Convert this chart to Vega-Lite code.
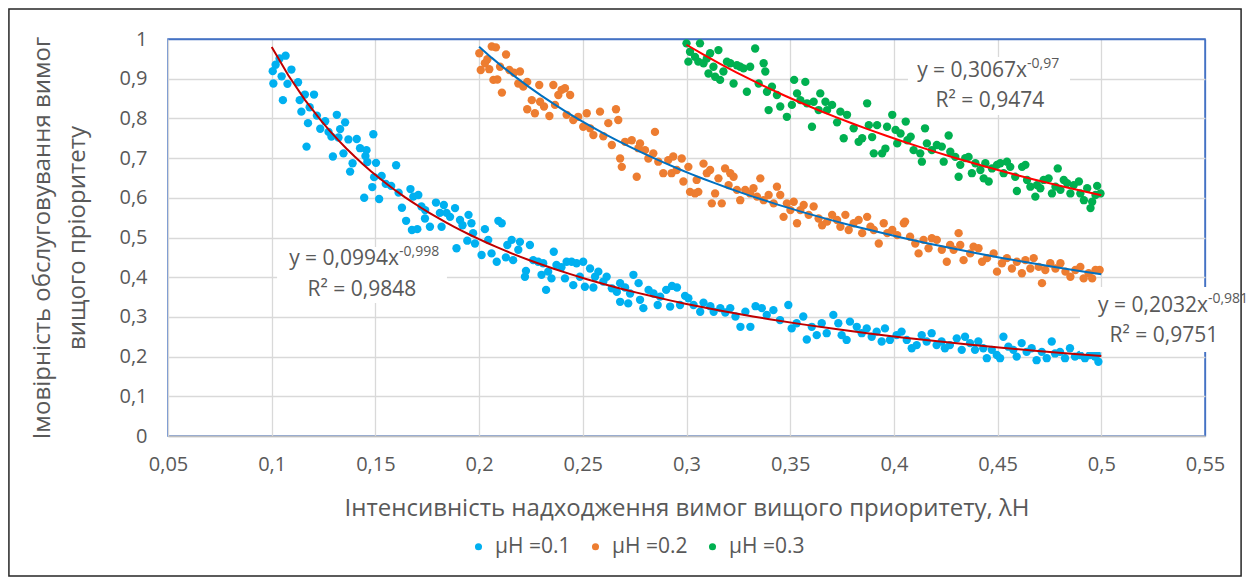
{
"$schema":"https://vega.github.io/schema/vega-lite/v6.json",
"width":1037,"height":397,
"autosize":{"type":"none"},
"padding":{"left":168,"top":39,"right":45,"bottom":148},
"background":"white",
"config":{"font":"Open Sans","view":{"stroke":"#4472C4","strokeWidth":1.5},
 "axis":{"labelFont":"Open Sans","titleFont":"Open Sans","labelColor":"#595959","titleColor":"#595959","titleFontWeight":"normal","labelFontSize":20,"titleFontSize":24,"ticks":false,"labelFlush":false,"labelOverlap":false,"labelBound":false},
 "legend":{"labelFont":"Open Sans"}},
"datasets":{
"a":[{"x":0.1005,"y":0.919},{"x":0.1008,"y":0.888},{"x":0.1019,"y":0.935},{"x":0.1038,"y":0.951},{"x":0.1067,"y":0.958},{"x":0.1048,"y":0.906},{"x":0.1054,"y":0.846},{"x":0.1076,"y":0.887},{"x":0.1095,"y":0.923},{"x":0.1127,"y":0.891},{"x":0.1135,"y":0.846},{"x":0.116,"y":0.86},{"x":0.1143,"y":0.817},{"x":0.1204,"y":0.86},{"x":0.1183,"y":0.828},{"x":0.1175,"y":0.788},{"x":0.1218,"y":0.807},{"x":0.1168,"y":0.729},{"x":0.1234,"y":0.774},{"x":0.1258,"y":0.793},{"x":0.1274,"y":0.766},{"x":0.1314,"y":0.809},{"x":0.1354,"y":0.79},{"x":0.133,"y":0.773},{"x":0.1322,"y":0.752},{"x":0.1295,"y":0.704},{"x":0.137,"y":0.747},{"x":0.141,"y":0.748},{"x":0.1346,"y":0.712},{"x":0.139,"y":0.687},{"x":0.1378,"y":0.666},{"x":0.149,"y":0.76},{"x":0.1452,"y":0.705},{"x":0.1461,"y":0.69},{"x":0.1446,"y":0.6},{"x":0.1494,"y":0.652},{"x":0.1485,"y":0.627},{"x":0.153,"y":0.655},{"x":0.155,"y":0.635},{"x":0.1518,"y":0.597},{"x":0.16,"y":0.682},{"x":0.1576,"y":0.63},{"x":0.1612,"y":0.613},{"x":0.1628,"y":0.575},{"x":0.1648,"y":0.542},{"x":0.1669,"y":0.622},{"x":0.1676,"y":0.519},
{"x":0.1288,"y":0.754},{"x":0.1426,"y":0.725},{"x":0.1457,"y":0.72},{"x":0.1503,"y":0.688},
{"x":0.1683,"y":0.603},{"x":0.1707,"y":0.607},{"x":0.1702,"y":0.521},{"x":0.1722,"y":0.578},{"x":0.1739,"y":0.548},{"x":0.1763,"y":0.527},{"x":0.1792,"y":0.588},{"x":0.1811,"y":0.562},{"x":0.183,"y":0.582},{"x":0.1843,"y":0.562},{"x":0.186,"y":0.552},{"x":0.1884,"y":0.574},{"x":0.1819,"y":0.527},{"x":0.1908,"y":0.544},{"x":0.192,"y":0.531},{"x":0.1949,"y":0.557},{"x":0.1963,"y":0.536},{"x":0.1971,"y":0.511},{"x":0.1943,"y":0.492},{"x":0.1891,"y":0.473},{"x":0.174,"y":0.569},{"x":0.198,"y":0.485},
{"x":0.2028,"y":0.521},{"x":0.2012,"y":0.456},{"x":0.2044,"y":0.494},{"x":0.206,"y":0.46},{"x":0.2085,"y":0.439},{"x":0.2093,"y":0.542},{"x":0.2109,"y":0.536},{"x":0.2136,"y":0.481},{"x":0.2157,"y":0.494},{"x":0.2129,"y":0.45},{"x":0.2164,"y":0.443},{"x":0.2197,"y":0.489},{"x":0.2189,"y":0.469},{"x":0.2226,"y":0.416},{"x":0.2221,"y":0.401},{"x":0.2245,"y":0.481},{"x":0.2261,"y":0.443},{"x":0.2285,"y":0.439},{"x":0.2301,"y":0.406},{"x":0.2309,"y":0.435},{"x":0.2333,"y":0.414},{"x":0.2349,"y":0.397},{"x":0.236,"y":0.464},{"x":0.2323,"y":0.368},{"x":0.2373,"y":0.431},{"x":0.2397,"y":0.425},{"x":0.2422,"y":0.439},{"x":0.2446,"y":0.439},{"x":0.247,"y":0.435},{"x":0.2502,"y":0.439},{"x":0.2414,"y":0.397},{"x":0.2454,"y":0.38},{"x":0.2486,"y":0.401},{"x":0.251,"y":0.376},{"x":0.2535,"y":0.422},{"x":0.2559,"y":0.401},{"x":0.2575,"y":0.414},{"x":0.2551,"y":0.374},{"x":0.2599,"y":0.389},{"x":0.2615,"y":0.401},{"x":0.264,"y":0.372},{"x":0.2664,"y":0.363},{"x":0.268,"y":0.385},{"x":0.2704,"y":0.374},{"x":0.268,"y":0.338},{"x":0.2728,"y":0.359},{"x":0.2744,"y":0.406},{"x":0.2769,"y":0.385},{"x":0.2719,"y":0.334},{"x":0.2776,"y":0.343},{"x":0.2792,"y":0.322},{"x":0.2817,"y":0.368},{"x":0.2841,"y":0.359},{"x":0.2861,"y":0.33},{"x":0.2873,"y":0.351},{"x":0.2902,"y":0.368},{"x":0.293,"y":0.378},{"x":0.2954,"y":0.374},{"x":0.2921,"y":0.326},{"x":0.2969,"y":0.33},{"x":0.2993,"y":0.353},{"x":0.3009,"y":0.347},{"x":0.3034,"y":0.33},{"x":0.3066,"y":0.313},{"x":0.3082,"y":0.336},{"x":0.3115,"y":0.327},{"x":0.3131,"y":0.313},{"x":0.3163,"y":0.322},{"x":0.3187,"y":0.311},{"x":0.3211,"y":0.322},{"x":0.3236,"y":0.301},{"x":0.326,"y":0.275},{"x":0.3284,"y":0.313},{"x":0.3308,"y":0.275},{"x":0.3333,"y":0.327},
{"x":0.3363,"y":0.322},{"x":0.3387,"y":0.305},{"x":0.3419,"y":0.317},{"x":0.3451,"y":0.292},{"x":0.3491,"y":0.33},{"x":0.3507,"y":0.271},{"x":0.3531,"y":0.284},{"x":0.3563,"y":0.301},{"x":0.358,"y":0.243},{"x":0.3604,"y":0.275},{"x":0.3628,"y":0.254},{"x":0.3652,"y":0.284},{"x":0.3676,"y":0.259},{"x":0.3708,"y":0.305},{"x":0.3732,"y":0.284},{"x":0.3748,"y":0.254},{"x":0.3772,"y":0.242},{"x":0.3788,"y":0.288},{"x":0.3821,"y":0.275},{"x":0.3845,"y":0.259},{"x":0.3869,"y":0.271},{"x":0.3893,"y":0.25},{"x":0.3917,"y":0.263},{"x":0.3941,"y":0.238},{"x":0.3957,"y":0.271},{"x":0.3981,"y":0.242},{"x":0.4013,"y":0.254},{"x":0.4037,"y":0.263},{"x":0.4062,"y":0.242},{"x":0.4086,"y":0.221},{"x":0.411,"y":0.229},{"x":0.4134,"y":0.254},{"x":0.4158,"y":0.238},{"x":0.4182,"y":0.259},{"x":0.4206,"y":0.229},{"x":0.423,"y":0.238},{"x":0.4246,"y":0.221},{"x":0.427,"y":0.229},{"x":0.4303,"y":0.246},{"x":0.4327,"y":0.217},{"x":0.4343,"y":0.25},{"x":0.4367,"y":0.234},{"x":0.4391,"y":0.217},{"x":0.4407,"y":0.238},{"x":0.4431,"y":0.221},{"x":0.4448,"y":0.196},{"x":0.4472,"y":0.217},{"x":0.4496,"y":0.204},{"x":0.4512,"y":0.196},{"x":0.4528,"y":0.25},{"x":0.4552,"y":0.225},{"x":0.4576,"y":0.217},{"x":0.4592,"y":0.2},{"x":0.4616,"y":0.234},{"x":0.464,"y":0.212},{"x":0.4664,"y":0.221},{"x":0.4688,"y":0.191},{"x":0.4713,"y":0.212},{"x":0.4737,"y":0.196},{"x":0.4761,"y":0.238},{"x":0.4777,"y":0.208},{"x":0.4801,"y":0.212},{"x":0.4825,"y":0.196},{"x":0.4849,"y":0.221},{"x":0.4873,"y":0.2},{"x":0.4897,"y":0.204},{"x":0.4921,"y":0.196},{"x":0.4945,"y":0.204},{"x":0.4969,"y":0.2},{"x":0.4986,"y":0.187},{"x":0.4978,"y":0.206}],
"b":[{"x":0.2001,"y":0.964},{"x":0.2008,"y":0.922},{"x":0.2028,"y":0.939},{"x":0.204,"y":0.949},{"x":0.2061,"y":0.981},{"x":0.2081,"y":0.979},{"x":0.2049,"y":0.924},{"x":0.2069,"y":0.897},{"x":0.2088,"y":0.898},{"x":0.211,"y":0.865},{"x":0.213,"y":0.961},{"x":0.2101,"y":0.93},{"x":0.2146,"y":0.922},{"x":0.2168,"y":0.915},{"x":0.2197,"y":0.918},{"x":0.2189,"y":0.888},{"x":0.2213,"y":0.88},{"x":0.2232,"y":0.892},{"x":0.2254,"y":0.846},{"x":0.2232,"y":0.823},{"x":0.2269,"y":0.813},{"x":0.229,"y":0.884},{"x":0.2294,"y":0.842},{"x":0.2313,"y":0.83},{"x":0.2339,"y":0.806},{"x":0.2358,"y":0.884},{"x":0.2366,"y":0.834},{"x":0.2382,"y":0.859},{"x":0.2398,"y":0.872},{"x":0.2414,"y":0.876},{"x":0.2439,"y":0.859},{"x":0.2422,"y":0.809},{"x":0.2454,"y":0.796},{"x":0.2478,"y":0.804},{"x":0.2502,"y":0.779},{"x":0.2519,"y":0.813},{"x":0.2535,"y":0.775},{"x":0.2551,"y":0.758},{"x":0.2583,"y":0.817},{"x":0.2599,"y":0.755},{"x":0.2623,"y":0.788},{"x":0.264,"y":0.733},{"x":0.266,"y":0.823},{"x":0.2671,"y":0.796},{"x":0.268,"y":0.699},{"x":0.2688,"y":0.678},{"x":0.2704,"y":0.741},{"x":0.2736,"y":0.745},{"x":0.276,"y":0.653},{"x":0.2768,"y":0.725},
{"x":0.2776,"y":0.737},{"x":0.28,"y":0.72},{"x":0.2816,"y":0.699},{"x":0.2848,"y":0.766},{"x":0.284,"y":0.712},{"x":0.2864,"y":0.691},{"x":0.2888,"y":0.662},{"x":0.2912,"y":0.695},{"x":0.2936,"y":0.704},{"x":0.2928,"y":0.662},{"x":0.2953,"y":0.67},{"x":0.2977,"y":0.699},{"x":0.2985,"y":0.641},{"x":0.3009,"y":0.678},{"x":0.3017,"y":0.615},{"x":0.3041,"y":0.611},{"x":0.3057,"y":0.615},{"x":0.3049,"y":0.645},{"x":0.3082,"y":0.686},{"x":0.3098,"y":0.662},{"x":0.3114,"y":0.67},{"x":0.3122,"y":0.586},{"x":0.3138,"y":0.611},{"x":0.3154,"y":0.649},{"x":0.317,"y":0.586},{"x":0.3186,"y":0.674},{"x":0.3211,"y":0.662},{"x":0.3227,"y":0.653},{"x":0.3203,"y":0.632},{"x":0.3243,"y":0.62},{"x":0.3259,"y":0.594},{"x":0.3283,"y":0.62},{"x":0.3307,"y":0.611},{"x":0.3323,"y":0.624},{"x":0.334,"y":0.603},{"x":0.3356,"y":0.649},{"x":0.3372,"y":0.594},{"x":0.3396,"y":0.607},{"x":0.342,"y":0.586},{"x":0.3436,"y":0.628},{"x":0.3452,"y":0.607},{"x":0.3468,"y":0.552},{"x":0.3484,"y":0.586},{"x":0.3501,"y":0.569},{"x":0.3517,"y":0.59},{"x":0.3533,"y":0.536},{"x":0.3549,"y":0.569},{"x":0.3565,"y":0.582},{"x":0.3589,"y":0.557},{"x":0.3613,"y":0.578},{"x":0.3637,"y":0.548},{"x":0.3654,"y":0.531},{"x":0.3678,"y":0.54},{"x":0.3702,"y":0.557},{"x":0.3726,"y":0.544},{"x":0.3742,"y":0.527},{"x":0.3766,"y":0.557},{"x":0.3782,"y":0.519},{"x":0.3806,"y":0.536},{"x":0.383,"y":0.544},{"x":0.3847,"y":0.511},{"x":0.3871,"y":0.552},{"x":0.3887,"y":0.527},{"x":0.3903,"y":0.519},{"x":0.3927,"y":0.485},{"x":0.3951,"y":0.536},{"x":0.3968,"y":0.511},{"x":0.3992,"y":0.519},{"x":0.4016,"y":0.506},{"x":0.4048,"y":0.536},
{"x":0.4054,"y":0.54},{"x":0.4078,"y":0.502},{"x":0.4103,"y":0.485},{"x":0.4119,"y":0.46},{"x":0.4143,"y":0.494},{"x":0.4167,"y":0.473},{"x":0.4183,"y":0.498},{"x":0.4207,"y":0.494},{"x":0.4231,"y":0.469},{"x":0.4255,"y":0.439},{"x":0.4271,"y":0.481},{"x":0.4288,"y":0.469},{"x":0.4312,"y":0.511},{"x":0.432,"y":0.481},{"x":0.4336,"y":0.443},{"x":0.4368,"y":0.46},{"x":0.4384,"y":0.477},{"x":0.4408,"y":0.473},{"x":0.4425,"y":0.439},{"x":0.4449,"y":0.448},{"x":0.4481,"y":0.46},{"x":0.4497,"y":0.414},{"x":0.4521,"y":0.435},{"x":0.4545,"y":0.448},{"x":0.4569,"y":0.422},{"x":0.4593,"y":0.439},{"x":0.4617,"y":0.41},{"x":0.4634,"y":0.443},{"x":0.4658,"y":0.422},{"x":0.4674,"y":0.448},{"x":0.4698,"y":0.426},{"x":0.4714,"y":0.385},{"x":0.473,"y":0.418},{"x":0.4754,"y":0.435},{"x":0.4779,"y":0.422},{"x":0.4803,"y":0.435},{"x":0.4827,"y":0.414},{"x":0.4851,"y":0.401},{"x":0.4875,"y":0.418},{"x":0.4899,"y":0.426},{"x":0.4915,"y":0.397},{"x":0.4939,"y":0.41},{"x":0.4956,"y":0.397},{"x":0.4972,"y":0.418},{"x":0.4992,"y":0.418}],
"c":[{"x":0.3,"y":0.989},{"x":0.3017,"y":0.968},{"x":0.3009,"y":0.943},{"x":0.3041,"y":0.955},{"x":0.3065,"y":0.989},{"x":0.3057,"y":0.943},{"x":0.3082,"y":0.939},{"x":0.3098,"y":0.951},{"x":0.3114,"y":0.964},{"x":0.3106,"y":0.913},{"x":0.313,"y":0.93},{"x":0.3138,"y":0.905},{"x":0.3154,"y":0.972},{"x":0.3162,"y":0.897},{"x":0.3178,"y":0.918},{"x":0.3195,"y":0.943},{"x":0.3211,"y":0.939},{"x":0.3227,"y":0.888},{"x":0.3243,"y":0.934},{"x":0.3259,"y":0.93},{"x":0.3275,"y":0.926},{"x":0.3291,"y":0.867},{"x":0.3307,"y":0.93},{"x":0.3331,"y":0.976},{"x":0.3348,"y":0.888},{"x":0.3372,"y":0.939},{"x":0.338,"y":0.918},{"x":0.3396,"y":0.821},{"x":0.3388,"y":0.867},{"x":0.3412,"y":0.88},{"x":0.3436,"y":0.859},{"x":0.3452,"y":0.83},{"x":0.3484,"y":0.804},{"x":0.3508,"y":0.834},{"x":0.3519,"y":0.897},{"x":0.3533,"y":0.863},{"x":0.3549,"y":0.846},{"x":0.3573,"y":0.892},{"x":0.3581,"y":0.838},{"x":0.3605,"y":0.779},{"x":0.3613,"y":0.842},{"x":0.3637,"y":0.821},{"x":0.3645,"y":0.863},{"x":0.367,"y":0.842},{"x":0.3678,"y":0.821},{"x":0.3702,"y":0.834},{"x":0.3726,"y":0.79},{"x":0.3742,"y":0.817},{"x":0.3758,"y":0.75},{"x":0.3774,"y":0.809},{"x":0.3806,"y":0.775},{"x":0.383,"y":0.741},{"x":0.3847,"y":0.75},{"x":0.3871,"y":0.838},{"x":0.3879,"y":0.783},{"x":0.3895,"y":0.753},{"x":0.3903,"y":0.712},{"x":0.3919,"y":0.783},{"x":0.3943,"y":0.712},{"x":0.3959,"y":0.724},{"x":0.3967,"y":0.779},{"x":0.3992,"y":0.809},{"x":0.4008,"y":0.771},{"x":0.4016,"y":0.737},{"x":0.4032,"y":0.762},{"x":0.4057,"y":0.792},{"x":0.4065,"y":0.745},{"x":0.4081,"y":0.754},{"x":0.415,"y":0.775},
{"x":0.4095,"y":0.72},{"x":0.4127,"y":0.712},{"x":0.4135,"y":0.691},{"x":0.4159,"y":0.737},{"x":0.4183,"y":0.72},{"x":0.4207,"y":0.733},{"x":0.4231,"y":0.729},{"x":0.424,"y":0.691},{"x":0.4264,"y":0.757},{"x":0.4272,"y":0.716},{"x":0.4296,"y":0.703},{"x":0.4312,"y":0.653},{"x":0.432,"y":0.683},{"x":0.4344,"y":0.7},{"x":0.436,"y":0.703},{"x":0.4376,"y":0.662},{"x":0.4393,"y":0.687},{"x":0.4417,"y":0.67},{"x":0.4433,"y":0.649},{"x":0.4441,"y":0.687},{"x":0.4457,"y":0.641},{"x":0.4473,"y":0.674},{"x":0.4497,"y":0.683},{"x":0.4513,"y":0.687},{"x":0.4529,"y":0.662},{"x":0.4545,"y":0.691},{"x":0.4561,"y":0.678},{"x":0.4585,"y":0.653},{"x":0.4593,"y":0.617},{"x":0.4618,"y":0.678},{"x":0.4634,"y":0.683},{"x":0.4642,"y":0.645},{"x":0.4658,"y":0.628},{"x":0.4682,"y":0.603},{"x":0.469,"y":0.632},{"x":0.4706,"y":0.624},{"x":0.4722,"y":0.645},{"x":0.4746,"y":0.649},{"x":0.4762,"y":0.611},{"x":0.4779,"y":0.628},{"x":0.479,"y":0.674},{"x":0.4803,"y":0.62},{"x":0.4819,"y":0.645},{"x":0.4835,"y":0.637},{"x":0.4851,"y":0.611},{"x":0.4867,"y":0.632},{"x":0.4892,"y":0.641},{"x":0.4899,"y":0.611},{"x":0.4916,"y":0.594},{"x":0.4932,"y":0.624},{"x":0.4948,"y":0.574},{"x":0.4956,"y":0.59},{"x":0.4972,"y":0.607},{"x":0.498,"y":0.63},{"x":0.4996,"y":0.611}],
"lab":[{"x":0.1614,"y":0.4307,"t":"y = 0,0994x","e":"-0,998","rx":0.1435,"ry":0.3526,"r":"R² = 0,9848"},{"x":0.5514,"y":0.3123,"t":"y = 0,2032x","e":"-0,981","rx":0.5302,"ry":0.2368,"r":"R² = 0,9751"},{"x":0.4642,"y":0.9043,"t":"y = 0,3067x","e":"-0,97","rx":0.4463,"ry":0.8287,"r":"R² = 0,9474"}],
"box":[{"x":0.1026,"x2":0.1845,"y":0.476,"y2":0.335},{"x":0.4897,"x2":0.5693,"y":0.3753,"y2":0.2116},{"x":0.4068,"x2":0.4849,"y":0.9547,"y2":0.8086}],
"frame":[{"x":-0.0267,"x2":0.5674,"y":1.0756,"y2":-0.3526}]
},
"layer":[
{"data":{"name":"a"},"mark":{"type":"circle","size":70,"opacity":1},
 "encoding":{
  "x":{"field":"x","type":"quantitative","scale":{"domain":[0.05,0.55],"nice":false,"zero":false},
   "axis":{"title":"Інтенсивність надходження вимог вищого приоритету, λH","tickCount":40,"values":[0.05,0.1,0.15,0.2,0.25,0.3,0.35,0.4,0.45,0.5,0.55],"labelExpr":"replace(format(datum.value,'.2~f'),'.',',')","labelPadding":18,"titlePadding":22,"grid":true,"gridColor":{"condition":{"test":"datum.value > 0.54","value":"#4472C4"},"value":"#D9D9D9"},"gridWidth":1.3,"domain":true,"domainColor":"#BFBFBF","domainWidth":1.5}},
  "y":{"field":"y","type":"quantitative","scale":{"domain":[0,1],"nice":false,"zero":false},
   "axis":{"title":["Імовірність обслуговування вимог","вищого пріоритету"],"tickCount":40,"values":[0,0.1,0.2,0.3,0.4,0.5,0.6,0.7,0.8,0.9,1],"labelExpr":"replace(format(datum.value,'.1~f'),'.',',')","labelPadding":21,"titlePadding":29,"titleLineHeight":35,"grid":true,"gridColor":{"condition":{"test":"datum.value > 0.99","value":"#4472C4"},"value":"#D9D9D9"},"gridWidth":1.3,"domain":false}},
  "color":{"datum":"μH =0.1","type":"nominal","scale":{"domain":["μH =0.1","μH =0.2","μH =0.3"],"range":["#00B0F0","#ED7D31","#00B050"]},
   "legend":{"orient":"none","legendX":300,"legendY":497,"direction":"horizontal","title":null,"labelFontSize":21,"labelColor":"#595959","symbolSize":50,"symbolType":"circle","columnPadding":14,"labelOffset":6}}}},
{"data":{"name":"b"},"mark":{"type":"circle","size":70,"opacity":1},
 "encoding":{"x":{"field":"x","type":"quantitative"},"y":{"field":"y","type":"quantitative"},"color":{"datum":"μH =0.2","type":"nominal"}}},
{"data":{"name":"c"},"mark":{"type":"circle","size":70,"opacity":1},
 "encoding":{"x":{"field":"x","type":"quantitative"},"y":{"field":"y","type":"quantitative"},"color":{"datum":"μH =0.3","type":"nominal"}}},
{"data":{"name":"a"},"transform":[{"regression":"y","on":"x","method":"pow","extent":[0.1,0.5]}],"mark":{"type":"line","color":"#C00000","strokeWidth":2},
 "encoding":{"x":{"field":"x","type":"quantitative"},"y":{"field":"y","type":"quantitative"}}},
{"data":{"name":"b"},"transform":[{"regression":"y","on":"x","method":"pow","extent":[0.2,0.5]}],"mark":{"type":"line","color":"#0070C0","strokeWidth":2},
 "encoding":{"x":{"field":"x","type":"quantitative"},"y":{"field":"y","type":"quantitative"}}},
{"data":{"name":"c"},"transform":[{"regression":"y","on":"x","method":"pow","extent":[0.3,0.5]}],"mark":{"type":"line","color":"#FF0000","strokeWidth":2},
 "encoding":{"x":{"field":"x","type":"quantitative"},"y":{"field":"y","type":"quantitative"}}},
{"data":{"name":"box"},"mark":{"type":"rect","fill":"white","stroke":null},
 "encoding":{"x":{"field":"x","type":"quantitative"},"x2":{"field":"x2"},"y":{"field":"y","type":"quantitative"},"y2":{"field":"y2"}}},
{"data":{"name":"frame"},"mark":{"type":"rect","fill":null,"fillOpacity":0,"stroke":"#262626","strokeWidth":1.5},
 "encoding":{"x":{"field":"x","type":"quantitative"},"x2":{"field":"x2"},"y":{"field":"y","type":"quantitative"},"y2":{"field":"y2"}}},
{"data":{"name":"lab"},"mark":{"type":"text","align":"right","baseline":"alphabetic","fontSize":21,"color":"#595959"},
 "encoding":{"x":{"field":"x","type":"quantitative"},"y":{"field":"y","type":"quantitative"},"text":{"field":"t"}}},
{"data":{"name":"lab"},"mark":{"type":"text","align":"left","baseline":"alphabetic","fontSize":14,"dy":-9,"color":"#595959"},
 "encoding":{"x":{"field":"x","type":"quantitative"},"y":{"field":"y","type":"quantitative"},"text":{"field":"e"}}},
{"data":{"name":"lab"},"mark":{"type":"text","align":"center","baseline":"alphabetic","fontSize":21,"color":"#595959"},
 "encoding":{"x":{"field":"rx","type":"quantitative"},"y":{"field":"ry","type":"quantitative"},"text":{"field":"r"}}}
]
}
